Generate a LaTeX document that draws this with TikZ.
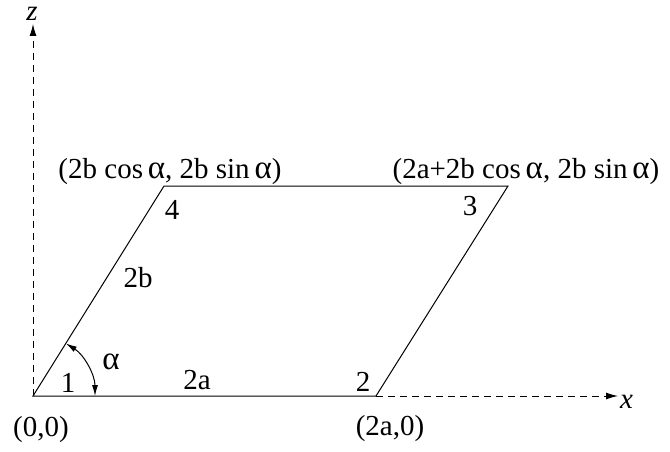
\documentclass[tikz,border=0pt]{standalone}
\usepackage{fontspec}
\setmainfont{Liberation Serif}
\usetikzlibrary{arrows.meta}
\newcommand\myal{{\fontsize{33}{33}\selectfont α}}
\begin{document}
\begin{tikzpicture}[x=1pt,y=-1pt,
  lbl/.style={inner sep=0pt,font=\fontsize{29}{32}\selectfont},
  axis/.style={dashed,dash pattern=on 7pt off 5pt,line width=1pt,-{Latex[length=12pt,width=7pt]}},
  edge/.style={line width=1pt}]
\useasboundingbox (0,0) rectangle (670,452);
\coordinate (o) at (33,396);
\coordinate (p2) at (376,396);
\coordinate (p3) at (508,186);
\coordinate (p4) at (164,186);
\coordinate (xe) at (618,396);
\coordinate (ze) at (33,24);
\coordinate (arcs) at ([shift={(-58:62)}]o);
\draw[axis] (p2) -- (xe);
\draw[axis] (o) -- (ze);
\draw[edge] (o) -- (p2) -- (p3) -- (p4) -- cycle;
\draw[line width=1pt,{Latex[length=11pt,width=6pt]}-{Latex[length=11pt,width=6pt]}] (arcs) arc[start angle=-58,end angle=0,radius=62];
\node[lbl,font=\fontsize{29}{32}\selectfont\itshape,anchor=west] (xl) at (620,402) {x};
\node[lbl,font=\fontsize{29}{32}\selectfont\itshape] (zl) at (32,14) {z};
\node[lbl] (n1) at (68,383) {1};
\node[lbl] (n2) at (363,382) {2};
\node[lbl] (n3) at (470,206) {3};
\node[lbl] (n4) at (172,210) {4};
\node[lbl] (al) at (111,362) {\myal};
\node[lbl] (la) at (197,380) {2a};
\node[lbl] (lb) at (138,278) {2b};
\node[lbl] (c0) at (41,430) {(0,0)};
\node[lbl] (c2) at (390,429) {(2a,0)};
\node[lbl] (c4) at (170,172) {(2b cos\,\myal, 2b sin\,\myal)};
\node[lbl] (c3) at (526,172) {(2a+2b cos\,\myal, 2b sin\,\myal)};
\end{tikzpicture}
\end{document}
